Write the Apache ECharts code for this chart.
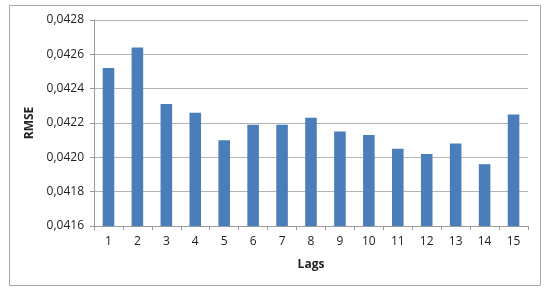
<!DOCTYPE html>
<html>
<head>
<meta charset="utf-8">
<script src="https://cdn.jsdelivr.net/npm/echarts@6/dist/echarts.min.js"></script>
<style>
  html, body { margin: 0; padding: 0; background: #fff; }
  #chart { width: 550px; height: 291px; }
</style>
</head>
<body>
<div id="chart"></div>
<script>
const lags = ['1', '2', '3', '4', '5', '6', '7', '8', '9', '10', '11', '12', '13', '14', '15']
const rmse = [0.04252, 0.04264, 0.04231, 0.04226, 0.04210, 0.04219, 0.04219, 0.04223,
  0.04215, 0.04213, 0.04205, 0.04202, 0.04208, 0.04196, 0.04225]
const yMin = 0.0416
const yMax = 0.0428
const yStep = 0.0002

const chart = echarts.init(document.getElementById('chart'))
chart.setOption({
  animation: false,
  textStyle: { fontFamily: 'Open Sans, Liberation Sans, sans-serif' },
  graphic: [{
    type: 'rect',
    shape: { x: 9.5, y: 5.5, width: 531, height: 280 },
    style: { fill: 'none', stroke: '#a6a6a6', lineWidth: 1 },
    silent: true
  }],
  grid: { left: 94, right: 22, top: 20, bottom: 65 },
  xAxis: {
    type: 'category',
    data: lags,
    name: 'Lags',
    nameLocation: 'middle',
    nameGap: 33,
    nameTextStyle: { fontWeight: 'bold', fontSize: 12, color: '#222' },
    axisLine: { lineStyle: { color: '#9a9a9a' } },
    axisTick: { show: true, length: 4, lineStyle: { color: '#9a9a9a' } },
    axisLabel: { color: '#222', fontSize: 12, margin: 10 }
  },
  yAxis: {
    type: 'value',
    min: yMin,
    max: yMax,
    interval: yStep,
    name: 'RMSE',
    nameLocation: 'middle',
    nameGap: 52,
    nameTextStyle: { fontWeight: 'bold', fontSize: 12, color: '#222' },
    axisLine: { show: true, lineStyle: { color: '#9a9a9a' } },
    axisTick: { show: true, length: 4, lineStyle: { color: '#9a9a9a' } },
    axisLabel: {
      color: '#222',
      fontSize: 12,
      margin: 10,
      formatter: v => v.toFixed(4).replace('.', ',')
    },
    splitLine: { lineStyle: { color: '#b4b4b4' } }
  },
  series: [{
    type: 'bar',
    data: rmse,
    barWidth: '40%',
    itemStyle: { color: '#4a7ebb' }
  }]
})
</script>
</body>
</html>
